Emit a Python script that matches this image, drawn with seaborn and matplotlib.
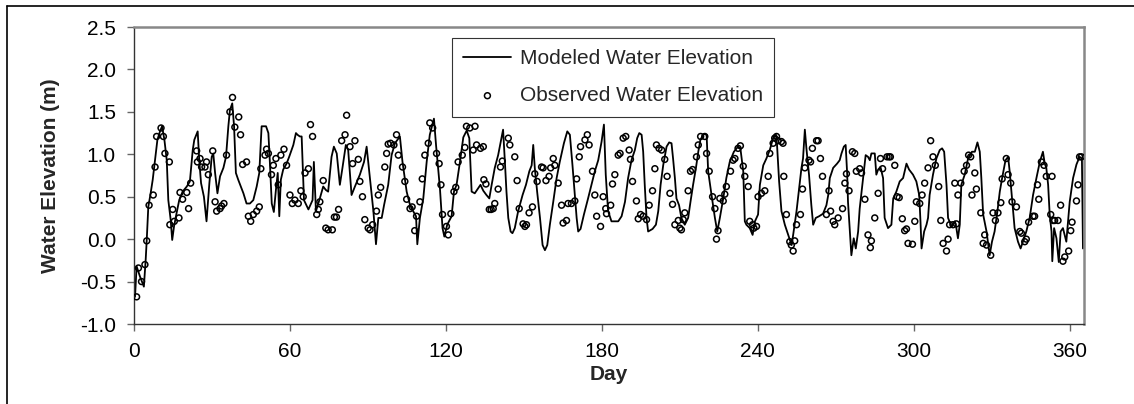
import numpy as np
import pandas as pd
import matplotlib
matplotlib.use("Agg")
import matplotlib.pyplot as plt
from matplotlib.lines import Line2D
from matplotlib.ticker import FormatStrFormatter
import seaborn as sns

# Modeled water elevation (vertices of the line)
model_day = [
    0.4, 1.0, 2.3, 3.8, 4.5, 4.9, 5.5, 6.4, 7.2, 8.1,
    9.0, 10.0, 10.8, 11.7, 12.6, 13.2, 14.1, 14.7, 15.4, 16.4,
    17.4, 18.7, 20.3, 21.5, 22.6, 23.2, 24.5, 25.1, 25.8, 26.9,
    27.9, 29.0, 29.9, 30.5, 31.2, 32.1, 33.1, 34.4, 35.4, 36.3,
    36.9, 37.8, 38.5, 39.2, 40.1, 42.1, 43.3, 44.6, 45.9, 47.2,
    48.2, 49.1, 50.8, 51.7, 52.3, 53.0, 53.8, 54.6, 55.3, 55.9,
    56.5, 57.4, 58.7, 59.7, 61.3, 62.3, 62.9, 63.8, 64.5, 65.4,
    67.1, 68.7,
    69.2, 70.0, 71.5, 72.8, 73.8, 74.7, 76.0, 76.9, 78.0, 79.2,
    80.2, 81.5, 82.4, 83.7, 85.0, 86.9, 88.5, 89.5, 90.5, 92.1,
    93.1, 94.0, 95.3, 96.2, 97.8, 99.1, 100.4, 102.3, 103.3, 104.9,
    106.2, 107.4, 108.5, 109.0, 110.0, 111.3, 112.6, 113.8, 115.4, 116.2,
    117.7, 118.7, 119.4, 120.5, 122.2, 123.1, 124.1, 125.4, 126.7, 128.0,
    129.0, 129.9, 131.1, 132.4, 133.3, 134.4, 135.6, 136.7, 137.6, 138.8,
    140.1, 141.0, 142.0, 142.7, 143.3, 144.0, 144.9, 145.6, 146.5, 147.8,
    149.5, 150.8, 152.1, 153.0, 153.6, 154.2, 155.1, 156.2, 157.2, 158.1,
    159.0, 160.0, 161.3, 162.6, 163.8, 165.4, 166.7, 167.7, 168.7, 169.6,
    170.3, 170.9, 171.8, 173.1, 174.7, 176.0, 177.3, 178.6, 179.9, 180.8,
    181.5, 182.4, 183.7,
    184.4, 186.3, 187.6, 188.9, 190.1, 191.4, 192.7, 193.6, 194.4, 195.3,
    195.9, 196.5, 197.2, 197.8, 199.5, 200.8, 201.7, 202.6, 203.6, 204.9,
    205.9, 206.8, 207.4, 208.1, 208.7, 209.7, 210.6, 211.9, 213.2, 214.1,
    215.1, 216.2, 217.1, 217.9, 219.2, 220.3, 220.9, 222.2, 223.5, 224.4,
    225.4, 226.7, 227.9, 229.2, 230.8, 232.4, 233.3, 234.4, 235.0, 235.6,
    236.9, 238.0, 238.9, 240.1, 240.8,
    242.1, 243.3, 244.6, 245.9, 247.0, 247.4, 248.2, 249.1, 250.4, 251.7,
    253.0, 253.6, 254.9, 255.9, 256.8, 257.4, 258.1, 258.7, 259.7, 260.6,
    261.3, 262.3, 263.6, 265.1, 266.4, 267.1, 267.7, 269.0, 270.5, 271.5,
    272.2, 273.1, 273.8, 274.4, 274.7, 275.4, 276.0, 276.9, 277.7, 278.6,
    279.2, 280.5, 281.5, 282.4, 283.1, 283.7, 285.0, 285.6, 286.3, 287.2,
    288.2, 288.8, 290.1, 291.4, 292.1, 293.3, 294.6, 295.9, 297.2, 298.2,
    299.7, 301.0, 302.1, 302.6, 303.0,
    304.0, 304.9, 305.5, 306.1, 307.4, 308.7, 310.0, 310.9, 311.7, 312.6,
    313.2, 314.5, 315.8, 316.4, 317.0, 317.7, 318.3, 319.6, 320.9, 322.4,
    323.5, 324.5, 325.4, 326.0, 326.7, 328.0, 329.2, 330.1, 331.1, 332.2,
    333.1, 334.0, 335.3, 336.3, 336.9, 337.8, 338.8, 340.1, 341.1, 342.0,
    343.3, 344.6, 345.9, 347.2, 348.5, 349.7, 350.4, 351.0, 351.7, 352.3,
    353.0, 353.3, 354.0, 354.9, 355.8, 356.5, 357.4, 358.7, 360.0, 361.3,
    362.6, 363.8, 364.7, 365.1,
]
model_elev = [
    -0.68, -0.32, -0.44, -0.56, -0.24, -0.01, 0.38, 0.54, 0.70, 0.93,
    1.17, 1.27, 1.33, 1.17, 0.93, 0.46, 0.23, -0.01, 0.15, 0.31,
    0.46, 0.56, 0.62, 0.68, 1.05, 1.17, 1.27, 0.93, 0.66, 0.50,
    0.21, 0.66, 0.97, 1.01, 0.78, 0.54, 0.74, 0.84, 0.97, 1.33,
    1.52, 1.60, 1.33, 0.78, 0.70, 0.54, 0.42, 0.42, 0.46, 0.62,
    0.78, 1.33, 1.33, 1.25, 0.89, 0.42, 0.32, 0.58, 0.78, 0.27,
    0.70, 0.82, 0.89, 0.97, 1.11, 1.25, 1.23, 1.21, 1.21, 0.46,
    0.35, 0.46,
    0.91, 0.33, 0.48, 0.62, 0.58, 0.56, 0.97, 1.09, 1.01, 0.64,
    0.84, 1.11, 1.05, 0.52, 0.62, 0.76, 0.91, 1.09, 0.80, 0.33,
    -0.06, 0.25, 0.25, 0.40, 0.64, 0.99, 1.13, 1.21, 0.91, 0.56,
    0.40, 0.33, 0.27, -0.06, 0.25, 0.48, 0.91, 1.23, 1.42, 1.11,
    0.60, 0.13, 0.03, 0.17, 0.27, 0.56, 0.64, 0.91, 1.20, 1.28,
    1.19, 0.56, 0.54, 0.60, 0.64, 0.57, 0.52, 0.48, 0.64, 0.84,
    0.99, 1.13, 1.29, 0.91, 0.56, 0.25, 0.09, 0.07, 0.13, 0.33,
    0.52, 0.64, 0.80, 0.87, 1.11, 0.84, 0.56, 0.25, -0.07, -0.13,
    -0.07, 0.17, 0.44, 0.72, 0.91, 1.13, 1.27, 1.23, 0.87, 0.52,
    0.25, 0.09, 0.12, 0.29, 0.48, 0.64, 0.80, 0.93, 1.15, 1.35,
    0.76, 0.33, 0.21,
    0.21, 0.21, 0.27, 0.44, 0.72, 0.93, 1.05, 1.19, 1.25, 1.23,
    1.03, 0.64, 0.25, 0.09, 0.12, 0.17, 0.33, 0.64, 0.87, 1.09,
    1.14, 1.13, 0.95, 0.72, 0.48, 0.40, 0.25, 0.17, 0.25, 0.44,
    0.64, 0.84, 1.03, 1.17, 1.24, 1.23, 0.80, 0.52, 0.25, 0.09,
    0.25, 0.48, 0.72, 0.91, 1.03, 1.09, 1.07, 0.80, 0.21, 0.17,
    0.13, 0.05, 0.21, 0.29, 0.64,
    0.87, 0.95, 1.05, 1.19, 1.23, 1.11, 0.68, 0.33, 0.17, 0.05,
    -0.07, 0.05, 0.33, 0.60, 0.84, 0.95, 1.29, 1.07, 0.76, 0.40,
    0.17, 0.25, 0.27, 0.30, 0.40, 0.52, 0.72, 0.84, 0.89, 0.93,
    1.01, 1.09, 1.11, 0.76, 0.44, 0.09, -0.19, 0.01, -0.11, 0.09,
    0.36, 0.72, 0.99, 0.97, 0.93, 1.01, 1.01, 0.76, 0.82, 0.85,
    0.72, 0.25, 0.13, 0.17, 0.48, 0.56, 0.68, 0.72, 0.89, 0.82,
    0.76, 0.68, 0.52, 0.20, -0.11,
    0.09, 0.17, 0.25, 0.52, 0.76, 0.95, 1.05, 1.07, 1.03, 0.64,
    0.25, 0.15, 0.21, 0.13, 0.01, 0.17, 0.64, 0.76, 0.95, 1.03,
    1.03, 1.14, 1.03, 0.72, 0.29, 0.09, -0.19, -0.03, 0.09, 0.33,
    0.56, 0.72, 0.93, 0.97, 0.80, 0.48, 0.13, -0.03, -0.11, -0.03,
    0.09, 0.25, 0.52, 0.72, 0.91, 1.03, 0.89, 0.84, 0.64, 0.29,
    0.09, -0.26, 0.13, 0.01, -0.27, 0.09, 0.13, -0.03, 0.44, 0.72,
    0.88, 0.97, 0.95, -0.11,
]

# Observed water elevation
obs_day = [
    1.0, 1.7, 2.9, 4.2, 4.9, 5.8, 7.4, 8.1, 8.7, 10.4,
    11.3, 11.9, 13.6, 13.8, 14.9, 15.5, 17.3, 17.7, 18.7, 20.3,
    21.0, 21.8, 24.1, 24.4, 25.4, 26.0, 27.3, 27.9, 28.6, 30.3,
    31.2, 31.8, 33.1, 33.7, 34.6, 35.6, 36.9, 37.9, 38.8, 40.3,
    41.0, 41.8, 43.3, 44.0, 44.9, 45.9, 47.2, 48.2, 48.8, 50.4,
    51.0, 51.7, 52.9, 53.6, 54.6, 55.5, 56.5, 57.7, 58.7, 60.0,
    60.9, 61.9, 63.2, 64.2, 65.1, 65.8, 67.1, 67.9, 68.7, 70.3,
    70.9, 71.5, 72.8, 73.8, 74.7, 76.3, 77.1, 77.9, 78.7, 79.9,
    81.2, 81.8, 83.1, 84.1, 85.0, 86.3, 86.9, 87.9, 88.8, 90.1,
    90.8, 91.8, 93.3, 94.0, 94.9, 96.5, 97.2, 97.8, 98.7, 100.0,
    101.0, 101.7,
    103.3, 104.2, 104.9, 106.2, 107.0, 108.0, 108.7, 110.0, 110.9, 111.9,
    113.2, 113.8, 114.9, 116.4, 117.4, 118.1, 118.7, 120.2, 120.9, 121.9,
    123.1, 123.8, 124.7, 126.3, 127.3, 127.9, 129.2, 130.5, 131.2, 131.8,
    133.3, 134.4, 134.6, 135.4, 136.7, 137.4, 138.2, 138.8, 140.1, 141.0,
    141.7, 144.0, 144.6, 146.5, 147.4, 148.2, 149.7, 150.4, 151.0, 152.0,
    153.3, 154.2, 155.1, 156.8, 157.4, 158.5, 159.7, 160.3, 161.3, 161.9,
    163.2, 164.5, 165.1, 166.4, 167.0, 168.3, 169.6, 170.3, 171.3, 171.8,
    173.5, 174.4, 175.1, 176.4, 177.3, 178.0, 179.5, 180.5, 181.5, 181.8,
    183.4, 184.1, 185.0, 186.3,
    187.0, 188.2, 189.2, 190.5, 191.0, 191.8, 193.3, 194.0, 194.9, 195.9,
    197.2, 198.2, 199.5, 200.4, 201.0, 202.0, 203.0, 204.2, 205.1, 206.2,
    207.2, 208.1, 209.4, 210.0, 210.6, 211.3, 211.9, 213.2, 214.1, 214.9,
    216.4, 217.1, 218.0, 219.6, 220.3, 221.3, 222.6, 223.5, 224.1, 224.7,
    225.4, 226.7, 227.3, 227.9, 229.5, 230.5, 231.2, 232.4, 233.3, 234.4,
    235.0, 236.3, 236.9, 238.0, 238.5, 239.5, 240.1, 241.4, 242.7,
    244.0, 244.6, 245.9, 246.5, 247.2, 247.8, 249.1, 249.7, 250.0, 251.0,
    252.3, 252.9, 253.6, 254.2, 254.9, 256.4, 257.2, 258.1, 259.7, 260.3,
    261.0, 262.6, 263.2, 264.1, 264.9, 266.4, 267.4, 268.0, 269.0, 269.6,
    270.9, 272.6, 273.5, 274.1, 275.1, 276.4, 277.3, 277.9, 279.2, 279.9,
    281.2, 282.4, 283.3, 283.7, 285.0, 286.3, 287.2, 288.0, 289.7, 290.5,
    291.0, 292.7, 293.6, 294.4, 295.6, 296.5, 297.2, 297.8, 299.5,
    300.4, 301.0, 302.3, 303.2, 304.2, 305.5, 306.5, 307.4, 308.3, 309.6,
    310.4, 311.3, 312.6, 313.2, 313.8, 315.1, 315.8, 316.4, 317.0, 318.1,
    319.4, 320.3, 321.1, 321.9, 322.4, 323.5, 324.1, 325.8, 326.7, 327.3,
    328.0, 329.6, 330.5, 331.4, 332.4, 333.5, 334.0, 335.6, 336.3, 337.3,
    337.8, 339.5, 340.8, 341.4, 342.7, 343.3, 344.2, 345.9, 346.5, 347.6,
    348.1, 349.1, 350.1, 351.0, 352.7, 353.2, 353.6, 354.2, 355.5, 356.5,
    357.4, 358.1, 359.6, 360.4, 360.9, 362.6, 363.2, 363.8, 364.5,
]
obs_elev = [
    -0.68, -0.34, -0.50, -0.30, -0.02, 0.40, 0.52, 0.85, 1.21, 1.31,
    1.21, 1.01, 0.91, 0.17, 0.35, 0.21, 0.25, 0.55, 0.47, 0.55,
    0.36, 0.66, 1.04, 0.91, 0.95, 0.85, 0.85, 0.91, 0.76, 1.04,
    0.44, 0.33, 0.36, 0.39, 0.42, 0.99, 1.50, 1.67, 1.32, 1.44,
    1.23, 0.88, 0.91, 0.27, 0.21, 0.29, 0.33, 0.38, 0.83, 0.99,
    1.06, 1.01, 0.76, 0.87, 0.95, 0.64, 0.99, 1.06, 0.87, 0.52,
    0.42, 0.46, 0.42, 0.57, 0.50, 0.78, 0.83, 1.35, 1.21, 0.29,
    0.35, 0.44, 0.69, 0.13, 0.11, 0.11, 0.26, 0.26, 0.35, 1.16,
    1.23, 1.46, 1.09, 0.89, 1.16, 0.94, 0.68, 0.50, 0.23, 0.13,
    0.11, 0.17, 0.33, 0.52, 0.61, 0.85, 1.01, 1.12, 1.13, 1.11,
    1.23, 0.99,
    0.85, 0.68, 0.47, 0.36, 0.38, 0.10, 0.27, 0.44, 0.71, 0.99,
    1.13, 1.37, 1.31, 1.01, 0.89, 0.64, 0.29, 0.15, 0.05, 0.30,
    0.56, 0.61, 0.91, 0.99, 1.08, 1.33, 1.31, 1.05, 1.33, 1.11,
    1.07, 1.09, 0.70, 0.65, 0.35, 0.35, 0.36, 0.42, 0.59, 0.85,
    0.92, 1.19, 1.11, 0.97, 0.69, 0.36, 0.18, 0.15, 0.17, 0.31,
    0.38, 0.77, 0.68, 0.85, 0.84, 0.69, 0.74, 0.84, 0.95, 0.87,
    0.66, 0.40, 0.19, 0.22, 0.42, 0.42, 0.45, 0.71, 0.97, 1.09,
    1.17, 1.23, 1.11, 0.80, 0.52, 0.27, 0.15, 0.50, 0.36, 0.30,
    0.40, 0.65, 0.76, 0.99,
    1.01, 1.19, 1.21, 1.05, 0.94, 0.68, 0.45, 0.24, 0.29, 0.27,
    0.23, 0.40, 0.57, 0.83, 1.11, 1.07, 1.05, 0.94, 0.74, 0.54,
    0.41, 0.17, 0.22, 0.13, 0.11, 0.23, 0.31, 0.57, 0.80, 0.82,
    0.97, 1.11, 1.21, 1.21, 1.01, 0.80, 0.50, 0.36, 0.00, 0.10,
    0.48, 0.45, 0.53, 0.62, 0.80, 0.93, 0.95, 1.07, 1.10, 0.86,
    0.74, 0.62, 0.21, 0.17, 0.13, 0.15, 0.50, 0.54, 0.57,
    0.74, 1.01, 1.13, 1.19, 1.21, 1.16, 1.15, 1.13, 0.74, 0.29,
    -0.03, -0.07, -0.14, -0.02, 0.17, 0.29, 0.59, 0.84, 0.93, 0.91,
    1.07, 1.16, 1.16, 0.95, 0.74, 0.29, 0.57, 0.33, 0.21, 0.17,
    0.25, 0.36, 0.66, 0.77, 0.57, 1.03, 1.01, 0.80, 0.83, 0.78,
    0.47, 0.05, -0.10, -0.02, 0.25, 0.54, 0.95, 0.83, 0.97, 0.97,
    0.97, 0.87, 0.50, 0.49, 0.24, 0.10, 0.12, -0.05, -0.06,
    0.21, 0.44, 0.42, 0.52, 0.66, 0.84, 1.16, 0.97, 0.87, 0.62,
    0.22, -0.05, -0.14, 0.00, 0.17, 0.17, 0.66, 0.18, 0.52, 0.66,
    0.80, 0.87, 0.99, 0.97, 0.52, 0.78, 0.59, 0.31, -0.05, 0.05,
    -0.07, -0.19, 0.31, 0.22, 0.31, 0.43, 0.71, 0.95, 0.76, 0.66,
    0.44, 0.38, 0.09, 0.07, -0.03, 0.00, 0.20, 0.27, 0.27, 0.64,
    0.47, 0.91, 0.87, 0.74, 0.29, 0.74, 0.22, 0.22, 0.22, 0.40,
    -0.26, -0.21, -0.14, 0.10, 0.20, 0.45, 0.64, 0.97, 0.97,
]

x_ticks = [0, 60, 120, 180, 240, 300, 360]
y_ticks = [-1.0, -0.5, 0.0, 0.5, 1.0, 1.5, 2.0, 2.5]

assert len(model_day) == len(model_elev), (len(model_day), len(model_elev))
assert len(obs_day) == len(obs_elev), (len(obs_day), len(obs_elev))

sns.set_theme(style="white")
plt.rcParams["font.family"] = ["Liberation Sans", "DejaVu Sans"]
plt.rcParams["axes.unicode_minus"] = False

W, H = 1134, 404
fig = plt.figure(figsize=(W / 100, H / 100), dpi=100)
ax = fig.add_axes([134 / W, 1 - 324 / H, 950 / W, 297 / H])

model = pd.DataFrame({"Day": model_day, "Elev": model_elev})
obs = pd.DataFrame({"Day": obs_day, "Elev": obs_elev})

sns.lineplot(data=model, x="Day", y="Elev", sort=False, estimator=None,
             color="black", linewidth=1.3, ax=ax,
             label="Modeled Water Elevation")
sns.scatterplot(data=obs, x="Day", y="Elev", marker="o", s=18,
                facecolor="none", edgecolor="black", linewidth=1.1,
                ax=ax, label="Observed Water Elevation", zorder=3)

ax.set_xlim(0, 365.5)
ax.set_ylim(-1.0, 2.5)
ax.set_xticks(x_ticks)
ax.set_yticks(y_ticks)
ax.yaxis.set_major_formatter(FormatStrFormatter("%.1f"))
ax.tick_params(axis="both", direction="out", length=5, width=1,
               color="#666666", labelsize=15, labelcolor="black", pad=8)
ax.tick_params(axis="x", bottom=True)
ax.tick_params(axis="y", left=True)

for side in ["left", "bottom"]:
    ax.spines[side].set_color("#333333")
    ax.spines[side].set_linewidth(1.0)
for side in ["top", "right"]:
    ax.spines[side].set_color("#888888")
    ax.spines[side].set_linewidth(1.8)

ax.set_xlabel("Day", fontsize=15, fontweight="bold", labelpad=3)
ax.set_ylabel("Water Elevation (m)", fontsize=15, fontweight="bold", labelpad=14)

leg = ax.legend(loc="upper left", bbox_to_anchor=(452 / W, 1 - 38 / H),
                bbox_transform=fig.transFigure, fontsize=15, frameon=True,
                fancybox=False, edgecolor="#333333", framealpha=1,
                handlelength=2.3, handletextpad=0.4, borderpad=0.55,
                labelspacing=0.85, borderaxespad=0)
leg.get_frame().set_linewidth(0.8)

# outer chart frame (top and left edges visible)
fig.add_artist(Line2D([7 / W, 1], [1 - 6 / H, 1 - 6 / H],
                      transform=fig.transFigure, color="black", lw=1.2))
fig.add_artist(Line2D([7 / W, 7 / W], [0, 1 - 6 / H],
                      transform=fig.transFigure, color="black", lw=1.2))

fig.savefig("out.png", dpi=100)
